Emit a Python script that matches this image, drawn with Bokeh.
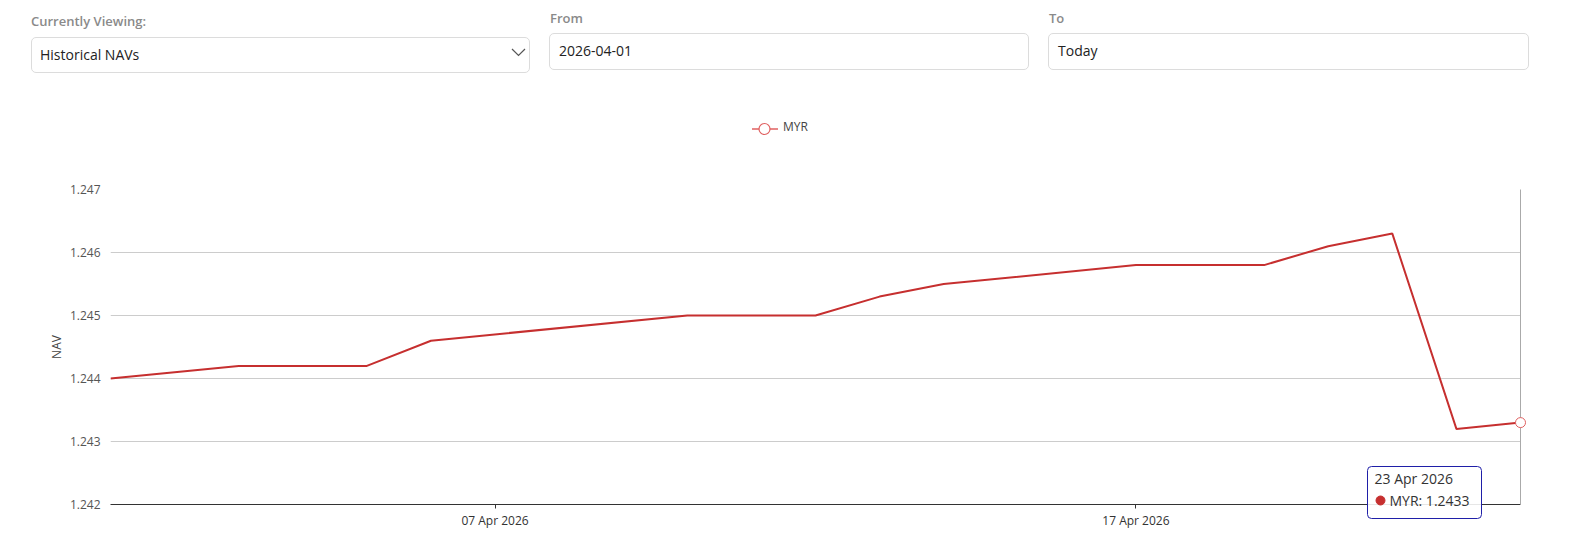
from datetime import datetime
from bokeh.plotting import figure
from bokeh.models import (Range1d, FixedTicker, NumeralTickFormatter, DatetimeTickFormatter,
                          LinearAxis, Div, ColumnDataSource)
from bokeh.layouts import column
from bokeh.core.properties import value
from bokeh.embed import file_html
from bokeh.resources import INLINE

# ---------------- data ----------------
dates = ["2026-04-01", "2026-04-03", "2026-04-05", "2026-04-06", "2026-04-10", "2026-04-12",
         "2026-04-13", "2026-04-14", "2026-04-17", "2026-04-19", "2026-04-20", "2026-04-21",
         "2026-04-22", "2026-04-23"]
nav = [1.2440, 1.2442, 1.2442, 1.2446, 1.2450, 1.2450,
       1.2453, 1.2455, 1.2458, 1.2458, 1.2461, 1.2463,
       1.2432, 1.2433]
series_name = "MYR"
y_ticks = [1.242, 1.243, 1.244, 1.245, 1.246, 1.247]
x_tick_dates = ["2026-04-07", "2026-04-17"]
x_start, x_end = "2026-04-01", "2026-04-23"
y_start, y_end = 1.242, 1.247
tooltip_date = "23 Apr 2026"

FONT = "Open Sans"
LINE_COLOR = "#c62f2f"
MARK_COLOR = "#e06060"


def to_dt(s):
    return datetime.strptime(s, "%Y-%m-%d")


def to_ms(s):
    return (to_dt(s) - datetime(1970, 1, 1)).total_seconds() * 1000.0


xs = [to_dt(d) for d in dates]

# ---------------- top controls + legend (HTML) ----------------
lab = "position:absolute;font-size:13px;line-height:18px;font-weight:600;color:#8a8a8a;white-space:nowrap;"
box = "position:absolute;box-sizing:border-box;border:1px solid #dcdcdc;border-radius:5px;background:#fff;"
txt = "position:absolute;font-size:14px;line-height:20px;color:#222;white-space:nowrap;"
html = f"""
<div style="position:relative;width:1562px;height:150px;font-family:'Open Sans',sans-serif;">
  <div style="{lab}left:31px;top:12px;">Currently Viewing:</div>
  <div style="{box}left:31px;top:37px;width:499px;height:36px;"></div>
  <div style="{txt}left:40px;top:45px;">Historical NAVs</div>
  <svg style="position:absolute;left:508px;top:44px;" width="24" height="16">
    <polyline points="4,5 10.5,11.5 17,5" fill="none" stroke="#555" stroke-width="1.2"/>
  </svg>
  <div style="{lab}left:550px;top:9px;">From</div>
  <div style="{box}left:549px;top:33px;width:480px;height:37px;"></div>
  <div style="{txt}left:559px;top:41px;">2026-04-01</div>
  <div style="{lab}left:1049px;top:9px;">To</div>
  <div style="{box}left:1048px;top:33px;width:481px;height:37px;"></div>
  <div style="{txt}left:1058px;top:41px;">Today</div>
  <svg style="position:absolute;left:748px;top:119px;" width="34" height="20">
    <line x1="4" y1="10" x2="30" y2="10" stroke="{MARK_COLOR}" stroke-width="1.5"/>
    <circle cx="16.5" cy="10" r="5.5" fill="#fff" stroke="{MARK_COLOR}" stroke-width="1.2"/>
  </svg>
  <div style="position:absolute;left:783px;top:118px;font-size:12px;line-height:18px;color:#444;">{series_name}</div>
</div>
"""
div = Div(text=html, width=1562, height=150, margin=0)

# ---------------- chart ----------------
p = figure(width=1562, height=402, x_axis_type="datetime",
           x_range=Range1d(to_dt(x_start), to_dt(x_end)),
           y_range=Range1d(y_start, y_end),
           output_backend="svg", toolbar_location=None,
           min_border_left=110, min_border_right=42, min_border_top=39, min_border_bottom=48)
p.outline_line_color = None
p.xgrid.grid_line_color = None
p.ygrid.grid_line_color = "#cccccc"
p.ygrid.grid_line_width = 1

src = ColumnDataSource(dict(x=xs, y=nav))
p.line("x", "y", source=src, line_color=LINE_COLOR, line_width=2)
last = ColumnDataSource(dict(x=[xs[-1]], y=[nav[-1]]))
p.scatter("x", "y", source=last, size=10, marker="circle", fill_color="white",
          line_color=MARK_COLOR, line_width=1, level="overlay")

# axes
p.xaxis.ticker = FixedTicker(ticks=[to_ms(d) for d in x_tick_dates])
p.xaxis.formatter = DatetimeTickFormatter(days="%d %b %Y", months="%d %b %Y", hours="%d %b %Y")
p.xaxis.minor_tick_line_color = None
p.xaxis.axis_line_color = "#333333"
p.xaxis.major_tick_line_color = "#333333"
p.xaxis.major_tick_in = 0
p.xaxis.major_tick_out = 4
p.xaxis.major_label_standoff = 3
p.xaxis.major_label_text_font = FONT
p.xaxis.major_label_text_font_size = "12px"
p.xaxis.major_label_text_color = "#333333"

p.yaxis.ticker = FixedTicker(ticks=y_ticks)
p.yaxis.formatter = NumeralTickFormatter(format="0.000")
p.yaxis.axis_line_color = None
p.yaxis.major_tick_line_color = None
p.yaxis.minor_tick_line_color = None
p.yaxis.major_tick_out = 0
p.yaxis.major_label_standoff = 10
p.yaxis.major_label_text_font = FONT
p.yaxis.major_label_text_font_size = "12px"
p.yaxis.major_label_text_color = "#555555"
p.yaxis.axis_label = "NAV"
p.yaxis.axis_label_text_font = FONT
p.yaxis.axis_label_text_font_size = "12px"
p.yaxis.axis_label_text_font_style = "normal"
p.yaxis.axis_label_text_color = "#444444"
p.yaxis.axis_label_standoff = 2

right = LinearAxis(axis_line_color="#aaaaaa", major_tick_line_color=None, minor_tick_line_color=None,
                   major_label_text_font_size="0px", ticker=FixedTicker(ticks=[]))
p.add_layout(right, "right")

# ---------------- tooltip (static hover box at last point) ----------------
span_ms = to_ms(x_end) - to_ms(x_start)


def X(px):
    return to_ms(x_start) + (px - 110) / 1410.0 * span_ms


def Y(py):
    return y_start + (504 - py) / 315.0 * (y_end - y_start)


p.quad(left=[X(1367)], right=[X(1481)], top=[Y(466)], bottom=[Y(518)],
       fill_color="white", fill_alpha=0.88, line_color="#1f1fa8", line_width=1,
       border_radius=4, level="overlay")
p.text(x=[X(1374)], y=[Y(478)], text=[tooltip_date], text_font=value(FONT),
       text_font_size="14px", text_color="#333333", text_baseline="middle",
       text_align="left", level="overlay")
p.scatter(x=[X(1380)], y=[Y(500)], size=9, marker="circle", fill_color=LINE_COLOR,
          line_color=LINE_COLOR, level="overlay")
p.text(x=[X(1389)], y=[Y(500)], text=[f"{series_name}: {nav[-1]:.4f}"], text_font=value(FONT),
       text_font_size="14px", text_color="#333333", text_baseline="middle",
       text_align="left", level="overlay")

layout = column(div, p, spacing=0)
open("out.html", "w").write(file_html(layout, INLINE))
